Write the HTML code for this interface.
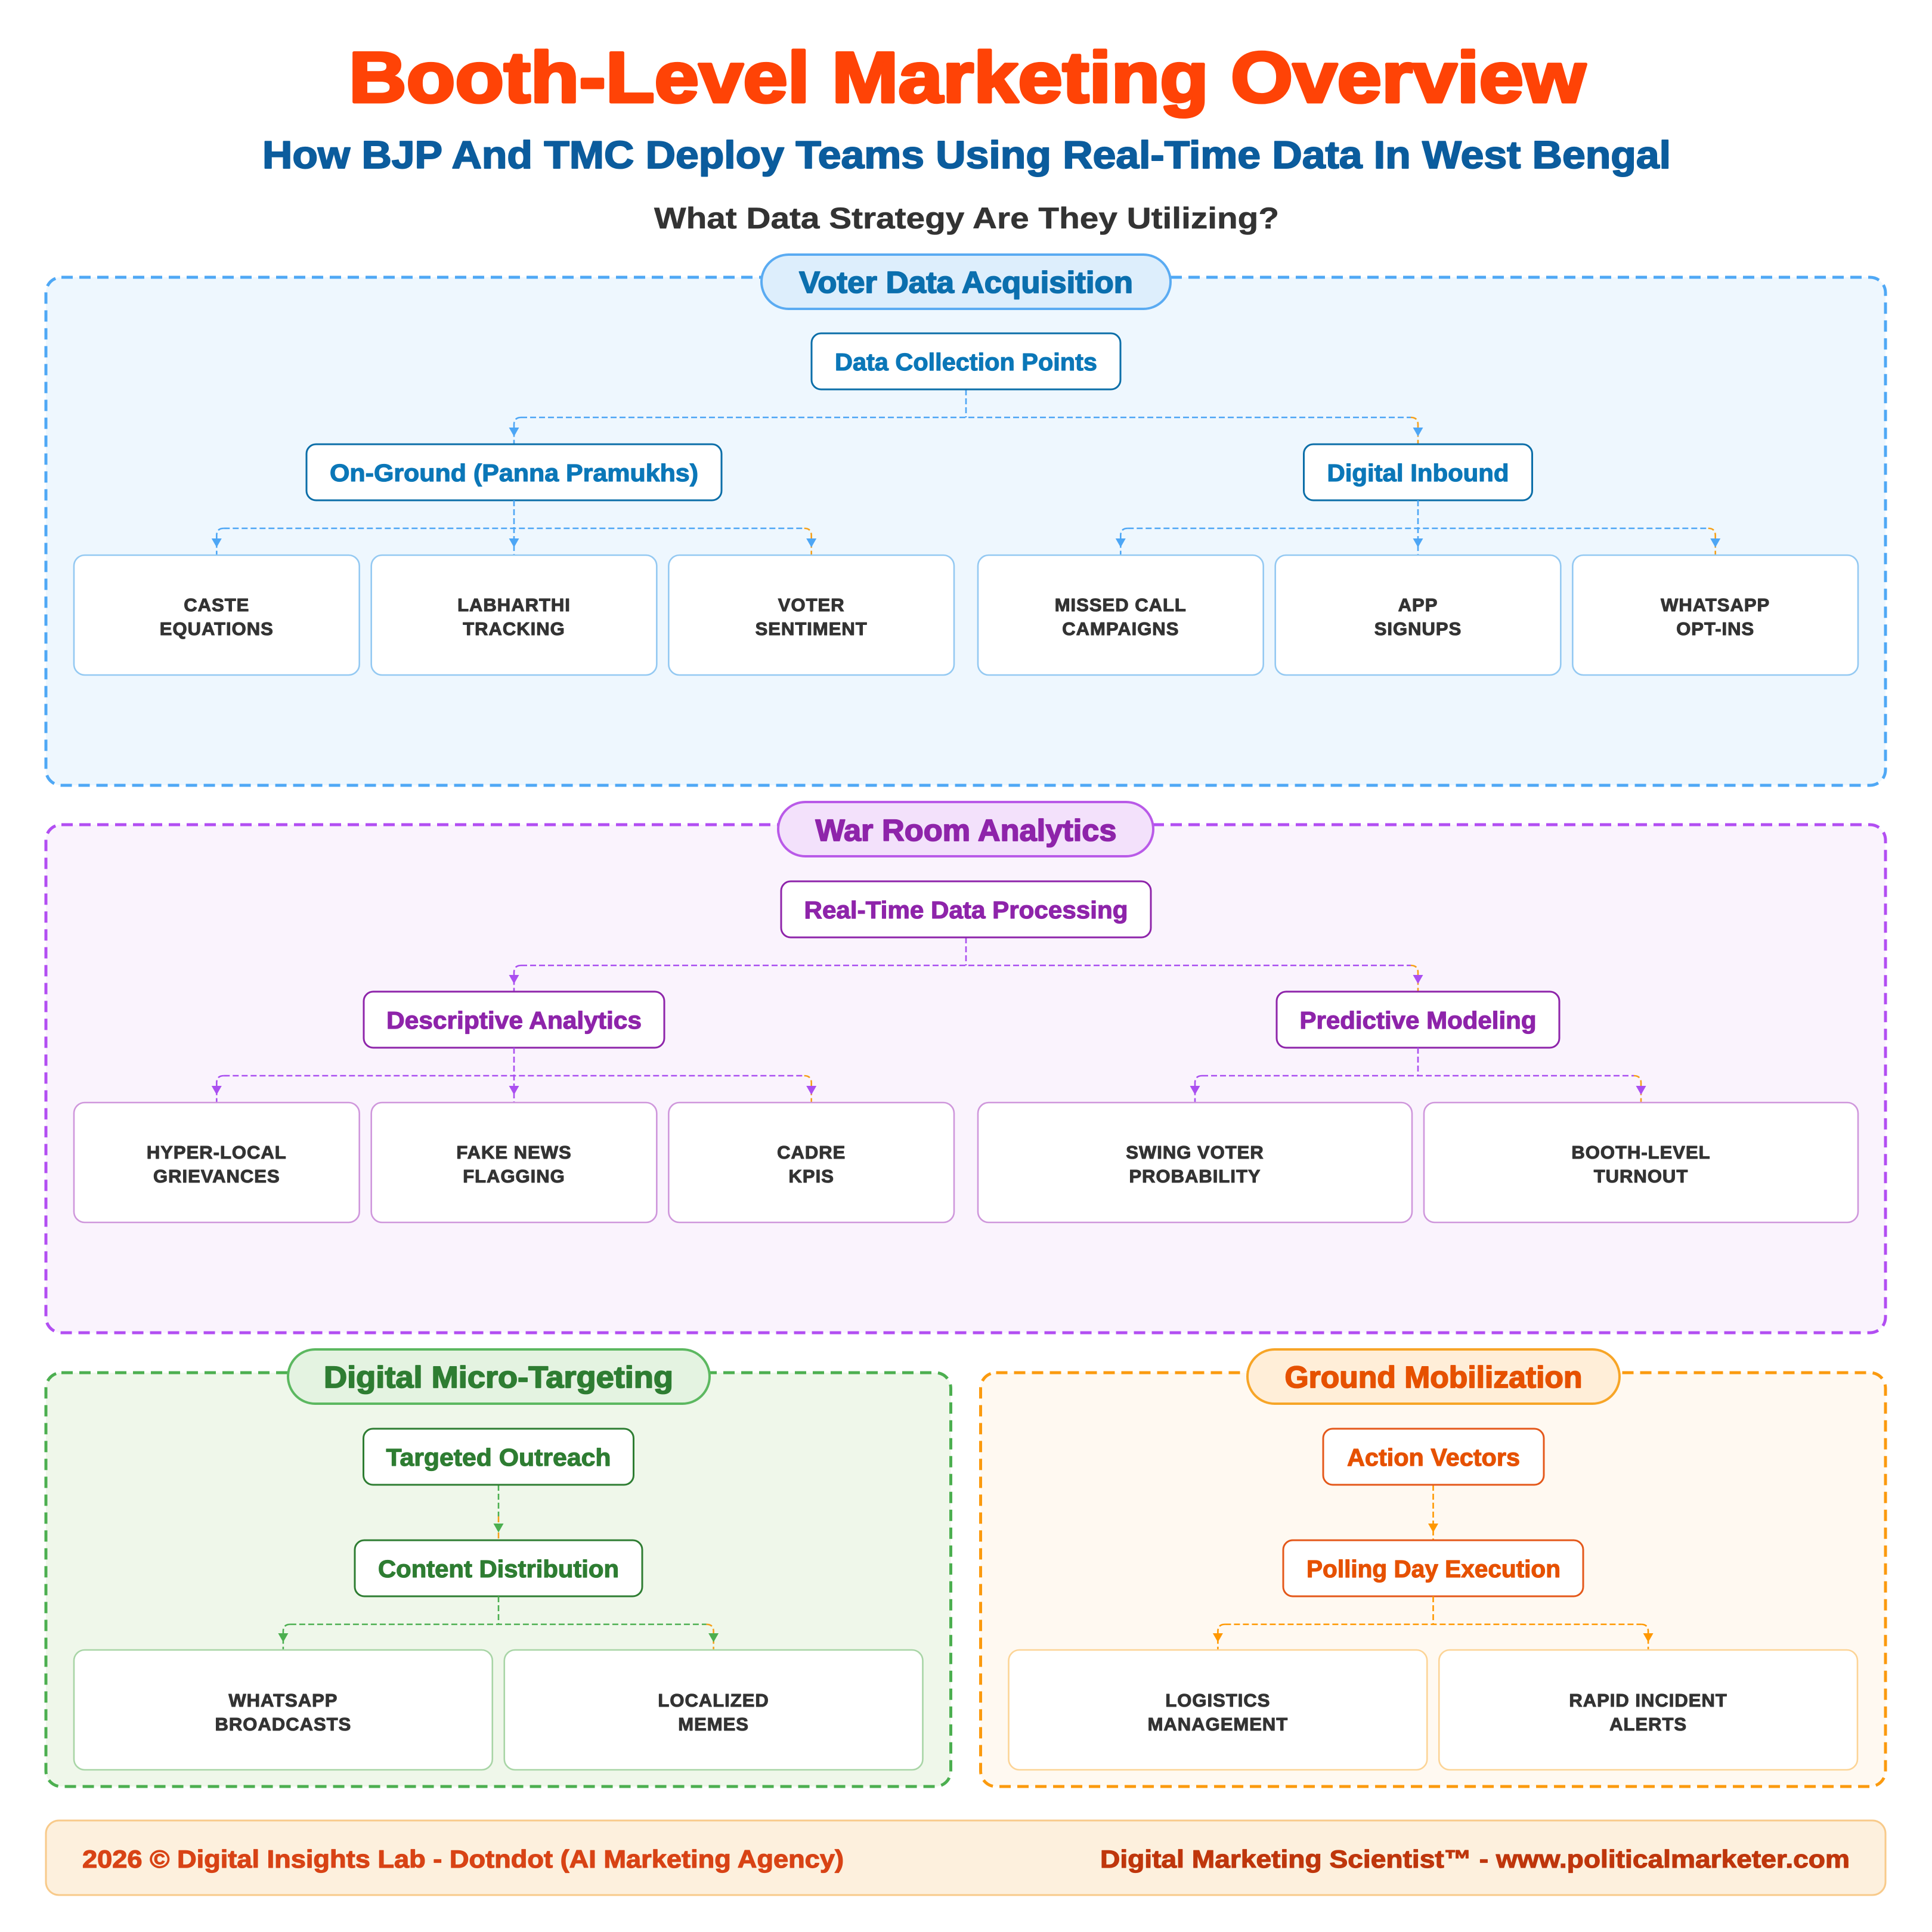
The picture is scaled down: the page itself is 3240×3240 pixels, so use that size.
<!DOCTYPE html>
<html>
<head>
<meta charset="utf-8">
<style>
html,body{margin:0;padding:0;background:#ffffff;}
body{width:3240px;height:3240px;overflow:hidden;}
svg{display:block;}
text{font-family:"Liberation Sans",Arial,sans-serif;font-weight:bold;paint-order:stroke fill;stroke-linejoin:round;}
.leaf{font-size:31px;fill:#333333;stroke:#333333;stroke-width:1.1px;letter-spacing:1px;text-anchor:middle;}
.node{font-size:41px;text-anchor:middle;stroke-width:1.2px;}
.pill{font-size:51px;text-anchor:middle;stroke-width:1.8px;}
.c1{fill:none;stroke:#4da6f5;stroke-width:2.6;stroke-dasharray:10 5;}
.c2{fill:none;stroke:#aa4ff0;stroke-width:2.6;stroke-dasharray:10 5;}
.c3{fill:none;stroke:#4caf50;stroke-width:2.6;stroke-dasharray:10 5;}
.c4{fill:none;stroke:#ff9800;stroke-width:2.6;stroke-dasharray:10 5;}
.co{fill:none;stroke:#f5a01a;stroke-width:2.6;stroke-dasharray:10 5;}
</style>
</head>
<body>
<svg width="3240" height="3240" viewBox="0 0 3240 3240" xmlns="http://www.w3.org/2000/svg">
<rect x="0" y="0" width="3240" height="3240" fill="#ffffff"/>

<!-- Header -->
<text x="1622" y="171" font-size="120" fill="#ff4306" stroke="#ff4306" stroke-width="5" text-anchor="middle" textLength="2074" lengthAdjust="spacingAndGlyphs">Booth-Level Marketing Overview</text>
<text x="1621" y="282" font-size="65" fill="#0b5c9d" stroke="#0b5c9d" stroke-width="2" text-anchor="middle" textLength="2362" lengthAdjust="spacingAndGlyphs">How BJP And TMC Deploy Teams Using Real-Time Data In West Bengal</text>
<text x="1621" y="383" font-size="50" fill="#333333" stroke="#333333" stroke-width="0.6" text-anchor="middle" textLength="1048" lengthAdjust="spacingAndGlyphs">What Data Strategy Are They Utilizing?</text>

<!-- ========== Section 1: Voter Data Acquisition ========== -->
<rect x="77" y="465" width="3085" height="852" rx="26" fill="#eef7fe" stroke="#4fa8f5" stroke-width="5" stroke-dasharray="19 11"/>
<rect x="1277" y="427" width="686" height="91" rx="45.5" fill="#ddeefc" stroke="#5aabf2" stroke-width="4"/>
<text class="pill" x="1620" y="491" fill="#0b6fae" stroke="#0b6fae" textLength="560" lengthAdjust="spacingAndGlyphs">Voter Data Acquisition</text>

<!-- connectors level 1 -->
<path class="c1" d="M1620 653 V700"/>
<path class="c1" d="M874 700 H2366"/>
<path class="c1" d="M874 700 Q862 700 862 712 V745"/>
<path class="co" d="M2366 700 Q2378 700 2378 712 V745"/>
<polygon points="853.5,717 870.5,717 862,732" fill="#4da6f5"/>
<polygon points="2369.5,717 2386.5,717 2378,732" fill="#4da6f5"/>

<rect x="1361" y="559" width="518" height="94" rx="16" fill="#ffffff" stroke="#0b6ea8" stroke-width="3"/>
<text class="node" x="1620" y="621" fill="#0b77b8" stroke="#0b77b8" textLength="440" lengthAdjust="spacingAndGlyphs">Data Collection Points</text>

<rect x="514" y="745" width="696" height="94" rx="16" fill="#ffffff" stroke="#0b6ea8" stroke-width="3"/>
<text class="node" x="862" y="807" fill="#0b77b8" stroke="#0b77b8" textLength="618" lengthAdjust="spacingAndGlyphs">On-Ground (Panna Pramukhs)</text>
<rect x="2186.5" y="745" width="383" height="94" rx="16" fill="#ffffff" stroke="#0b6ea8" stroke-width="3"/>
<text class="node" x="2378" y="807" fill="#0b77b8" stroke="#0b77b8" textLength="305" lengthAdjust="spacingAndGlyphs">Digital Inbound</text>

<!-- connectors leaves left -->
<path class="c1" d="M862 839 V931"/>
<path class="c1" d="M375.3 886 H1348.7"/>
<path class="c1" d="M375.3 886 Q363.3 886 363.3 898 V931"/>
<path class="co" d="M1348.7 886 Q1360.7 886 1360.7 898 V931"/>
<polygon points="354.8,903 371.8,903 363.3,918" fill="#4da6f5"/>
<polygon points="853.5,903 870.5,903 862,918" fill="#4da6f5"/>
<polygon points="1352.2,903 1369.2,903 1360.7,918" fill="#4da6f5"/>
<!-- connectors leaves right -->
<path class="c1" d="M2378 839 V931"/>
<path class="c1" d="M1891.3 886 H2864.7"/>
<path class="c1" d="M1891.3 886 Q1879.3 886 1879.3 898 V931"/>
<path class="co" d="M2864.7 886 Q2876.7 886 2876.7 898 V931"/>
<polygon points="1870.8,903 1887.8,903 1879.3,918" fill="#4da6f5"/>
<polygon points="2369.5,903 2386.5,903 2378,918" fill="#4da6f5"/>
<polygon points="2868.2,903 2885.2,903 2876.7,918" fill="#4da6f5"/>

<!-- leaves S1 -->
<g fill="#ffffff" stroke="#94c9f2" stroke-width="2.6">
<rect x="124" y="931" width="478.67" height="201" rx="18"/>
<rect x="622.67" y="931" width="478.67" height="201" rx="18"/>
<rect x="1121.33" y="931" width="478.67" height="201" rx="18"/>
<rect x="1640" y="931" width="478.67" height="201" rx="18"/>
<rect x="2138.67" y="931" width="478.67" height="201" rx="18"/>
<rect x="2637.33" y="931" width="478.67" height="201" rx="18"/>
</g>
<text class="leaf" x="363.3" y="1025">CASTE</text>
<text class="leaf" x="363.3" y="1065">EQUATIONS</text>
<text class="leaf" x="862" y="1025">LABHARTHI</text>
<text class="leaf" x="862" y="1065">TRACKING</text>
<text class="leaf" x="1360.7" y="1025">VOTER</text>
<text class="leaf" x="1360.7" y="1065">SENTIMENT</text>
<text class="leaf" x="1879.3" y="1025">MISSED CALL</text>
<text class="leaf" x="1879.3" y="1065">CAMPAIGNS</text>
<text class="leaf" x="2378" y="1025">APP</text>
<text class="leaf" x="2378" y="1065">SIGNUPS</text>
<text class="leaf" x="2876.7" y="1025">WHATSAPP</text>
<text class="leaf" x="2876.7" y="1065">OPT-INS</text>

<!-- ========== Section 2: War Room Analytics ========== -->
<rect x="77" y="1383" width="3085" height="852" rx="26" fill="#faf3fd" stroke="#b24ef2" stroke-width="5" stroke-dasharray="19 11"/>
<rect x="1305" y="1345" width="629" height="91" rx="45.5" fill="#f3e1fb" stroke="#b95ae8" stroke-width="4"/>
<text class="pill" x="1620" y="1410" fill="#8e24aa" stroke="#8e24aa" textLength="505" lengthAdjust="spacingAndGlyphs">War Room Analytics</text>

<path class="c2" d="M1620 1572 V1619"/>
<path class="c2" d="M874 1619 H2366"/>
<path class="c2" d="M874 1619 Q862 1619 862 1631 V1663"/>
<path class="co" d="M2366 1619 Q2378 1619 2378 1631 V1663"/>
<polygon points="853.5,1635 870.5,1635 862,1650" fill="#aa4ff0"/>
<polygon points="2369.5,1635 2386.5,1635 2378,1650" fill="#aa4ff0"/>

<rect x="1310" y="1478" width="620" height="94" rx="16" fill="#ffffff" stroke="#8e24aa" stroke-width="3"/>
<text class="node" x="1620" y="1540" fill="#8e24aa" stroke="#8e24aa" textLength="543" lengthAdjust="spacingAndGlyphs">Real-Time Data Processing</text>
<rect x="610" y="1663" width="504" height="94" rx="16" fill="#ffffff" stroke="#8e24aa" stroke-width="3"/>
<text class="node" x="862" y="1725" fill="#8e24aa" stroke="#8e24aa" textLength="428" lengthAdjust="spacingAndGlyphs">Descriptive Analytics</text>
<rect x="2141" y="1663" width="474" height="94" rx="16" fill="#ffffff" stroke="#8e24aa" stroke-width="3"/>
<text class="node" x="2378" y="1725" fill="#8e24aa" stroke="#8e24aa" textLength="397" lengthAdjust="spacingAndGlyphs">Predictive Modeling</text>

<path class="c2" d="M862 1757 V1849"/>
<path class="c2" d="M375.3 1804 H1348.7"/>
<path class="c2" d="M375.3 1804 Q363.3 1804 363.3 1816 V1849"/>
<path class="co" d="M1348.7 1804 Q1360.7 1804 1360.7 1816 V1849"/>
<polygon points="354.8,1821 371.8,1821 363.3,1836" fill="#aa4ff0"/>
<polygon points="853.5,1821 870.5,1821 862,1836" fill="#aa4ff0"/>
<polygon points="1352.2,1821 1369.2,1821 1360.7,1836" fill="#aa4ff0"/>

<path class="c2" d="M2378 1757 V1804"/>
<path class="c2" d="M2016 1804 H2740"/>
<path class="c2" d="M2016 1804 Q2004 1804 2004 1816 V1849"/>
<path class="co" d="M2740 1804 Q2752 1804 2752 1816 V1849"/>
<polygon points="1995.5,1821 2012.5,1821 2004,1836" fill="#aa4ff0"/>
<polygon points="2743.5,1821 2760.5,1821 2752,1836" fill="#aa4ff0"/>

<g fill="#ffffff" stroke="#cf97dc" stroke-width="2.6">
<rect x="124" y="1849" width="478.67" height="201" rx="18"/>
<rect x="622.67" y="1849" width="478.67" height="201" rx="18"/>
<rect x="1121.33" y="1849" width="478.67" height="201" rx="18"/>
<rect x="1640" y="1849" width="728" height="201" rx="18"/>
<rect x="2388" y="1849" width="728" height="201" rx="18"/>
</g>
<text class="leaf" x="363.3" y="1943">HYPER-LOCAL</text>
<text class="leaf" x="363.3" y="1983">GRIEVANCES</text>
<text class="leaf" x="862" y="1943">FAKE NEWS</text>
<text class="leaf" x="862" y="1983">FLAGGING</text>
<text class="leaf" x="1360.7" y="1943">CADRE</text>
<text class="leaf" x="1360.7" y="1983">KPIS</text>
<text class="leaf" x="2004" y="1943">SWING VOTER</text>
<text class="leaf" x="2004" y="1983">PROBABILITY</text>
<text class="leaf" x="2752" y="1943">BOOTH-LEVEL</text>
<text class="leaf" x="2752" y="1983">TURNOUT</text>

<!-- ========== Section 3: Digital Micro-Targeting ========== -->
<rect x="77" y="2302" width="1517.5" height="694" rx="26" fill="#eff7ea" stroke="#4caf50" stroke-width="5" stroke-dasharray="19 11"/>
<rect x="483" y="2263" width="707" height="91" rx="45.5" fill="#e4f3e1" stroke="#5cb860" stroke-width="4"/>
<text class="pill" x="836" y="2327" fill="#2e7d32" stroke="#2e7d32" textLength="586" lengthAdjust="spacingAndGlyphs">Digital Micro-Targeting</text>

<path class="c3" d="M836 2490 V2543"/>
<path class="co" d="M836 2543 V2555"/>
<path class="co" d="M836 2570 V2583"/>
<polygon points="827.5,2555 844.5,2555 836,2570" fill="#4caf50"/>

<rect x="609.5" y="2396" width="453" height="94" rx="16" fill="#ffffff" stroke="#2e7d32" stroke-width="3"/>
<text class="node" x="836" y="2458" fill="#2e7d32" stroke="#2e7d32" textLength="377" lengthAdjust="spacingAndGlyphs">Targeted Outreach</text>
<rect x="595" y="2583" width="482" height="94" rx="16" fill="#ffffff" stroke="#2e7d32" stroke-width="3"/>
<text class="node" x="836" y="2645" fill="#2e7d32" stroke="#2e7d32" textLength="404" lengthAdjust="spacingAndGlyphs">Content Distribution</text>

<path class="c3" d="M836 2677 V2724"/>
<path class="c3" d="M486.9 2724 H1184.6"/>
<path class="c3" d="M486.9 2724 Q474.9 2724 474.9 2736 V2767"/>
<path class="co" d="M1184.6 2724 Q1196.6 2724 1196.6 2736 V2767"/>
<polygon points="466.4,2739 483.4,2739 474.9,2754" fill="#4caf50"/>
<polygon points="1188.1,2739 1205.1,2739 1196.6,2754" fill="#4caf50"/>

<g fill="#ffffff" stroke="#a8d5a6" stroke-width="2.6">
<rect x="124" y="2767" width="701.75" height="201" rx="18"/>
<rect x="845.75" y="2767" width="701.75" height="201" rx="18"/>
</g>
<text class="leaf" x="474.9" y="2862">WHATSAPP</text>
<text class="leaf" x="474.9" y="2902">BROADCASTS</text>
<text class="leaf" x="1196.6" y="2862">LOCALIZED</text>
<text class="leaf" x="1196.6" y="2902">MEMES</text>

<!-- ========== Section 4: Ground Mobilization ========== -->
<rect x="1644.5" y="2302" width="1517.5" height="694" rx="26" fill="#fff9f1" stroke="#fb9a0e" stroke-width="5" stroke-dasharray="19 11"/>
<rect x="2092" y="2263" width="624" height="91" rx="45.5" fill="#ffeed8" stroke="#f7a527" stroke-width="4"/>
<text class="pill" x="2404" y="2327" fill="#e65100" stroke="#e65100" textLength="499" lengthAdjust="spacingAndGlyphs">Ground Mobilization</text>

<path class="c4" d="M2403.5 2490 V2583"/>
<polygon points="2395,2555 2412,2555 2403.5,2570" fill="#ff9800"/>

<rect x="2219" y="2396" width="370" height="94" rx="16" fill="#ffffff" stroke="#e4581a" stroke-width="3"/>
<text class="node" x="2404" y="2458" fill="#e65100" stroke="#e65100" textLength="290" lengthAdjust="spacingAndGlyphs">Action Vectors</text>
<rect x="2152" y="2583" width="503" height="94" rx="16" fill="#ffffff" stroke="#e4581a" stroke-width="3"/>
<text class="node" x="2404" y="2645" fill="#e65100" stroke="#e65100" textLength="426" lengthAdjust="spacingAndGlyphs">Polling Day Execution</text>

<path class="c4" d="M2403.5 2677 V2724"/>
<path class="c4" d="M2054.4 2724 H2752.1"/>
<path class="c4" d="M2054.4 2724 Q2042.4 2724 2042.4 2736 V2767"/>
<path class="c4" d="M2752.1 2724 Q2764.1 2724 2764.1 2736 V2767"/>
<polygon points="2033.9,2739 2050.9,2739 2042.4,2754" fill="#ff9800"/>
<polygon points="2755.6,2739 2772.6,2739 2764.1,2754" fill="#ff9800"/>

<g fill="#ffffff" stroke="#fcd496" stroke-width="2.6">
<rect x="1691.5" y="2767" width="701.75" height="201" rx="18"/>
<rect x="2413.25" y="2767" width="701.75" height="201" rx="18"/>
</g>
<text class="leaf" x="2042.4" y="2862">LOGISTICS</text>
<text class="leaf" x="2042.4" y="2902">MANAGEMENT</text>
<text class="leaf" x="2764.1" y="2862">RAPID INCIDENT</text>
<text class="leaf" x="2764.1" y="2902">ALERTS</text>

<!-- ========== Footer ========== -->
<rect x="77" y="3053" width="3085" height="125" rx="22" fill="#fdf0dd" stroke="#f8ca8a" stroke-width="3"/>
<text x="138" y="3132" font-size="42" fill="#d84315" stroke="#d84315" stroke-width="1.2" textLength="1277" lengthAdjust="spacingAndGlyphs">2026 © Digital Insights Lab - Dotndot (AI Marketing Agency)</text>
<text x="1845" y="3132" font-size="42" fill="#bf360c" stroke="#bf360c" stroke-width="1.2" textLength="1257" lengthAdjust="spacingAndGlyphs">Digital Marketing Scientist™ - www.politicalmarketer.com</text>
</svg>
</body>
</html>
